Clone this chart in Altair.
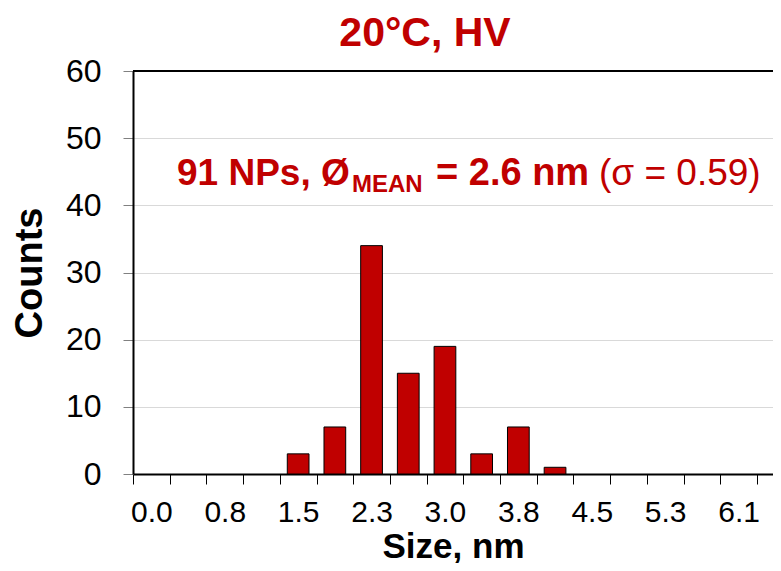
import altair as alt
import pandas as pd

# ---- data ----
bin_index = list(range(17))
bin_centers = [0.00, 0.38, 0.76, 1.14, 1.52, 1.89, 2.27, 2.65, 3.03, 3.41,
               3.79, 4.17, 4.55, 4.93, 5.30, 5.68, 6.06]
counts = [0, 0, 0, 0, 3, 7, 34, 15, 19, 3, 7, 1, 0, 0, 0, 0, 0]
tick_labels = ["0.0", "0.8", "1.5", "2.3", "3.0", "3.8", "4.5", "5.3", "6.1"]
count_ticks = [0, 10, 20, 30, 40, 50, 60]

title_text = "20°C, HV"
ann_bold_1 = "91 NPs, Ø"
ann_sub = "MEAN"
ann_bold_2 = "= 2.6 nm"
ann_regular = "(σ = 0.59)"

df = pd.DataFrame({"bin": bin_index, "size": bin_centers, "count": counts})

# ---- layout / style ----
W, H = 640, 403
BAND = 36.7
x_max = -0.5 + W / BAND
RED = "#C00000"
FONT = "Liberation Sans"

label_arr = "[" + ",".join(f"'{t}'" for t in tick_labels) + "]"
label_expr = (f"((datum.value + 0.5) % 2 == 0) ? "
              f"{label_arr}[(datum.value + 0.5) / 2] : ''")

x_enc = alt.X(
    "lo:Q",
    scale=alt.Scale(domain=[-0.5, x_max], nice=False, zero=False),
    axis=alt.Axis(
        values=[i - 0.5 for i in range(18)],
        labelExpr=label_expr,
        labelOffset=BAND / 2,
        labelFlush=False,
        labelOverlap=False,
        tickSize=10,
        tickColor="black",
        tickWidth=1,
        domainColor="black",
        domainWidth=2,
        labelFont=FONT,
        labelFontSize=30,
        labelColor="black",
        labelPadding=13,
        title="Size, nm",
        titleFont=FONT,
        titleFontSize=35,
        titleFontWeight="bold",
        titleColor="black",
        titlePadding=2,
        grid=False,
    ),
)

y_enc = alt.Y(
    "count:Q",
    scale=alt.Scale(domain=[0, 60], nice=False),
    axis=alt.Axis(
        values=count_ticks,
        tickSize=10,
        tickColor="#808080",
        tickWidth=1,
        grid=True,
        gridColor="#d9d9d9",
        gridWidth=1,
        domainColor="black",
        domainWidth=2,
        labelFont=FONT,
        labelFontSize=32,
        labelColor="black",
        labelPadding=22,
        title="Counts",
        titleFont=FONT,
        titleFontSize=38,
        titleFontWeight="bold",
        titleColor="black",
        titlePadding=16,
    ),
)

bars = (
    alt.Chart(df)
    .transform_filter("datum.count > 0")
    .transform_calculate(lo="datum.bin - 0.296", hi="datum.bin + 0.296")
    .mark_bar(color=RED, stroke="black", strokeWidth=1)
    .encode(x=x_enc, x2="hi:Q", y=y_enc, y2=alt.datum(0))
)

one = pd.DataFrame({"k": [0]})

top_border = (
    alt.Chart(one)
    .mark_rule(color="black", strokeWidth=2)
    .encode(y=alt.datum(60))
)


def txt(text, x, y, size, weight, align="left"):
    return (
        alt.Chart(one)
        .mark_text(
            font=FONT, fontSize=size, fontWeight=weight, color=RED,
            align=align, baseline="alphabetic",
        )
        .encode(x=alt.value(x), y=alt.value(y), text=alt.value(text))
    )


title = txt(title_text, 292, -25, 41, "bold", align="center")
a1 = txt(ann_bold_1, 44, 114, 37, "bold")
a2 = txt(ann_sub, 219, 121, 24, "bold")
a3 = txt(ann_bold_2, 303, 114, 38, "bold")
a4 = txt(ann_regular, 466, 114, 37, "normal")

chart = (
    alt.layer(top_border, bars, title, a1, a2, a3, a4)
    .properties(
        width=W,
        height=H,
        padding={"left": 125, "top": 63, "right": 0, "bottom": 89},
        autosize=alt.AutoSizeParams(type="none"),
        background="white",
    )
    .configure_view(stroke=None)
)

chart.save("out.html", embed_options={"renderer": "svg", "actions": False})
